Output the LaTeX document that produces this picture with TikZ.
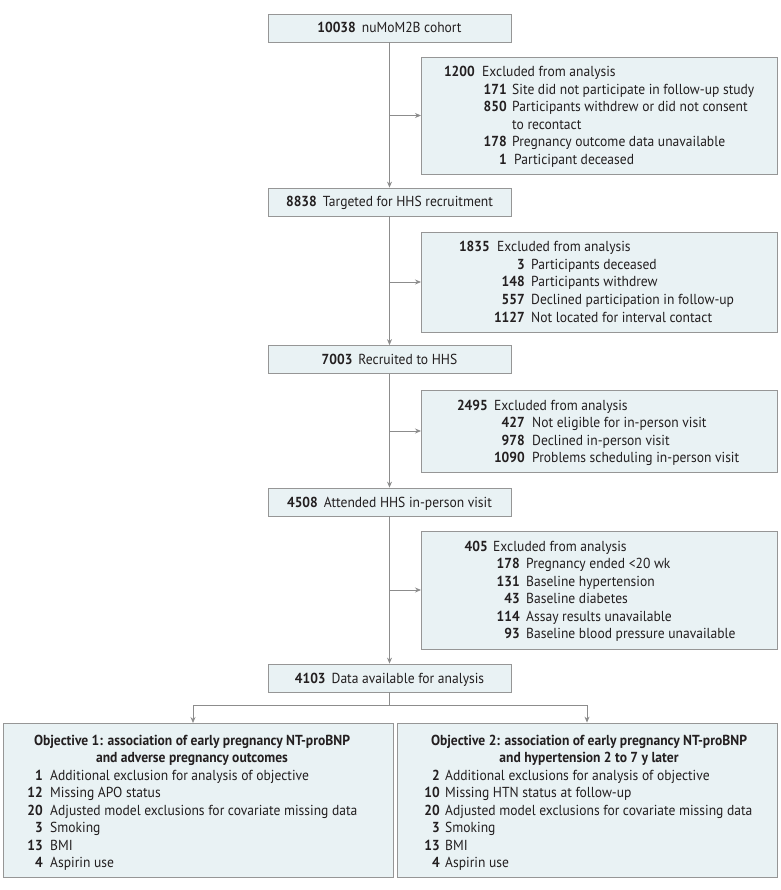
\documentclass[tikz,border=0pt]{standalone}
\usepackage{fontspec}
\setmainfont{PT Sans}[FakeStretch=0.935]
\usetikzlibrary{arrows.meta,calc}
\definecolor{boxfill}{RGB}{233,242,244}
\definecolor{boxline}{RGB}{150,150,150}
\definecolor{linegray}{RGB}{140,140,140}
\definecolor{ink}{RGB}{35,31,32}
\begin{document}
\begin{tikzpicture}[x=1pt,y=-1pt,
  every node/.style={text=ink,font=\fontsize{14.5}{17.5}\selectfont},
  mainbox/.style={draw=boxline,fill=boxfill,line width=0.8pt,minimum width=243pt,minimum height=28pt,inner sep=0pt,text height=10pt,text depth=0pt},
  exbox/.style={draw=boxline,fill=boxfill,line width=0.8pt,inner sep=0pt},
  num/.style={anchor=base east,inner sep=0pt,font=\fontsize{14.5}{17.5}\selectfont\bfseries},
  txt/.style={anchor=base west,inner sep=0pt},
  ttl/.style={anchor=base,inner sep=0pt,font=\fontsize{14.5}{17.5}\selectfont\bfseries},
  conn/.style={draw=linegray,line width=0.8pt},
  arr/.style={conn,-{Stealth[length=6pt,width=5pt]}}]
\useasboundingbox (0,0) rectangle (780,890);
% main boxes
\node[mainbox] (A) at (389.5,28) {\textbf{10038}\hspace{6pt}nuMoM2B cohort};
\node[mainbox] (B) at (389.5,202) {\textbf{8838}\hspace{6pt}Targeted for HHS recruitment};
\node[mainbox] (C) at (389.5,359.5) {\textbf{7003}\hspace{6pt}Recruited to HHS};
\node[mainbox] (D) at (389.5,502) {\textbf{4508}\hspace{6pt}Attended HHS in-person visit};
\node[mainbox] (E) at (389.5,678) {\textbf{4103}\hspace{6pt}Data available for analysis};
% exclusion boxes
\path[exbox] (421,57) rectangle (777,174) node[midway,inner sep=0,minimum size=0] (X1) {};
\path[exbox] (421,232) rectangle (777,332) node[midway,inner sep=0] (X2) {};
\path[exbox] (421,390) rectangle (777,472) node[midway,inner sep=0] (X3) {};
\path[exbox] (421,531) rectangle (777,649) node[midway,inner sep=0] (X4) {};
\coordinate (X1w) at (421,115.5);
\coordinate (X2w) at (421,282);
\coordinate (X3w) at (421,431);
\coordinate (X4w) at (421,590);
% objective boxes
\node[exbox,minimum width=390pt,minimum height=154pt] (O1) at (198,800) {};
\node[exbox,minimum width=380pt,minimum height=154pt] (O2) at (587,800) {};
% exclusion 1 text
\node[num] (x1n0) at (475,77) {1200};  \node[txt] (x1t0) at (482,77) {Excluded from analysis};
\node[num] (x1n1) at (507,94.5) {171};     \node[txt] (x1t1) at (512,94.5) {Site did not participate in follow-up study};
\node[num] (x1n2) at (507,112) {850};  \node[txt] (x1t2) at (512,112) {Participants withdrew or did not consent};
\node[txt] (x1t2b) at (512,129.5) {to recontact};
\node[num] (x1n3) at (507,147) {178};  \node[txt] (x1t3) at (512,147) {Pregnancy outcome data unavailable};
\node[num] (x1n4) at (507,164.5) {1};      \node[txt] (x1t4) at (514,164.5) {Participant deceased};
% exclusion 2 text
\node[num] (x2n0) at (490,252) {1835}; \node[txt] (x2t0) at (497,252) {Excluded from analysis};
\node[num] (x2n1) at (525,269.5) {3};      \node[txt] (x2t1) at (531,269.5) {Participants deceased};
\node[num] (x2n2) at (525,287) {148};  \node[txt] (x2t2) at (531,287) {Participants withdrew};
\node[num] (x2n3) at (525,304.5) {557};    \node[txt] (x2t3) at (531,304.5) {Declined participation in follow-up};
\node[num] (x2n4) at (525,322) {1127}; \node[txt] (x2t4) at (531,322) {Not located for interval contact};
% exclusion 3 text
\node[num] (x3n0) at (488,410) {2495}; \node[txt] (x3t0) at (494,410) {Excluded from analysis};
\node[num] (x3n1) at (525,427.5) {427};    \node[txt] (x3t1) at (532,427.5) {Not eligible for in-person visit};
\node[num] (x3n2) at (525,445) {978};  \node[txt] (x3t2) at (532,445) {Declined in-person visit};
\node[num] (x3n3) at (525,462.5) {1090};   \node[txt] (x3t3) at (532,462.5) {Problems scheduling in-person visit};
% exclusion 4 text
\node[num] (x4n0) at (488,551) {405};  \node[txt] (x4t0) at (493,551) {Excluded from analysis};
\node[num] (x4n1) at (520,568.5) {178};    \node[txt] (x4t1) at (526,568.5) {Pregnancy ended <20 wk};
\node[num] (x4n2) at (520,586) {131};  \node[txt] (x4t2) at (526,586) {Baseline hypertension};
\node[num] (x4n3) at (520,603.5) {43};     \node[txt] (x4t3) at (526,603.5) {Baseline diabetes};
\node[num] (x4n4) at (520,621) {114};  \node[txt] (x4t4) at (526,621) {Assay results unavailable};
\node[num] (x4n5) at (520,638.5) {93};     \node[txt] (x4t5) at (526,638.5) {Baseline blood pressure unavailable};
% objective 1 text
\node[ttl] (o1a) at (192,745) {Objective 1: association of early pregnancy NT-proBNP};
\node[ttl] (o1b) at (192,762) {and adverse pregnancy outcomes};
\node[num] (o1n1) at (43,780) {1};   \node[txt] (o1t1) at (50,780) {Additional exclusion for analysis of objective};
\node[num] (o1n2) at (43,797.5) {12};    \node[txt] (o1t2) at (50,797.5) {Missing APO status};
\node[num] (o1n3) at (43,815) {20};  \node[txt] (o1t3) at (50,815) {Adjusted model exclusions for covariate missing data};
\node[num] (o1n4) at (43,832.5) {3};     \node[txt] (o1t4) at (50,832.5) {Smoking};
\node[num] (o1n5) at (43,850) {13};  \node[txt] (o1t5) at (50,850) {BMI};
\node[num] (o1n6) at (43,867.5) {4};     \node[txt] (o1t6) at (50,867.5) {Aspirin use};
% objective 2 text
\node[ttl] (o2a) at (589,745) {Objective 2: association of early pregnancy NT-proBNP};
\node[ttl] (o2b) at (589,762) {and hypertension 2 to 7 y later};
\node[num] (o2n1) at (440,780) {2};   \node[txt] (o2t1) at (445,780) {Additional exclusions for analysis of objective};
\node[num] (o2n2) at (440,797.5) {10};   \node[txt] (o2t2) at (445,797.5) {Missing HTN status at follow-up};
\node[num] (o2n3) at (440,815) {20}; \node[txt] (o2t3) at (445,815) {Adjusted model exclusions for covariate missing data};
\node[num] (o2n4) at (440,832.5) {3};    \node[txt] (o2t4) at (445,832.5) {Smoking};
\node[num] (o2n5) at (440,850) {13}; \node[txt] (o2t5) at (445,850) {BMI};
\node[num] (o2n6) at (440,867.5) {4};    \node[txt] (o2t6) at (445,867.5) {Aspirin use};
% connectors
\draw[arr] (A.south) -- (B.north);
\draw[arr] (B.south) -- (C.north);
\draw[arr] (C.south) -- (D.north);
\draw[arr] (D.south) -- (E.north);
\draw[arr] (A.south |- X1w) -- (X1w);
\draw[arr] (B.south |- X2w) -- (X2w);
\draw[arr] (C.south |- X3w) -- (X3w);
\draw[arr] (D.south |- X4w) -- (X4w);
\coordinate (split) at ($(E.south)+(0,13)$);
\draw[conn] (E.south) -- (split);
\coordinate (o1top) at (193,723);
\draw[arr] (split) -| (o1top);
\draw[arr] (split) -| (O2.north);
\end{tikzpicture}
\end{document}
